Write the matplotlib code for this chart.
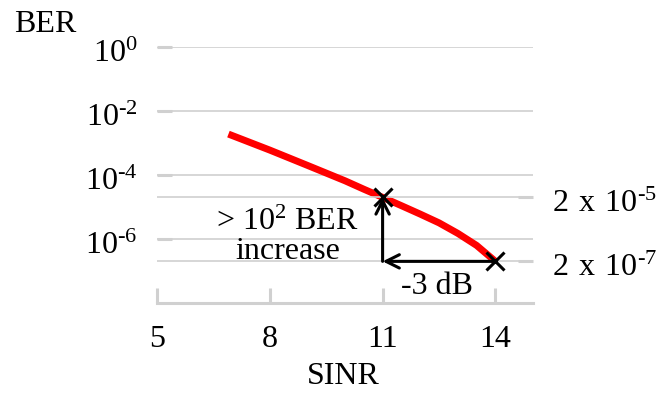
import matplotlib
matplotlib.use("Agg")
import matplotlib.pyplot as plt
import matplotlib.transforms as mtransforms
from matplotlib.ticker import NullLocator, FixedLocator

plt.rcParams["font.family"] = ["Liberation Serif", "DejaVu Serif"]
plt.rcParams["mathtext.fontset"] = "custom"
plt.rcParams["mathtext.rm"] = "Liberation Serif"

# curve
sinr = [6.9, 8, 9, 10, 10.5, 11, 11.5, 12, 12.5, 13, 13.5, 14]
ber = [1.9e-3, 6.0e-4, 2.0e-4, 6.6e-5, 3.6e-5, 2e-5, 1.1e-5, 6.0e-6,
       3.2e-6, 1.5e-6, 6.3e-7, 2e-7]

x_ticks = [5, 8, 11, 14]
y_ticks = [1e0, 1e-2, 1e-4, 1e-6]
y_labels = [r"$\mathregular{10^{0}}$", r"$\mathregular{10^{\text{-}2}}$",
            r"$\mathregular{10^{\text{-}4}}$", r"$\mathregular{10^{\text{-}6}}$"]
right_ticks = [2e-5, 2e-7]
right_labels = [r"$\mathregular{2\ x\ 10^{\text{-}5}}$",
                r"$\mathregular{2\ x\ 10^{\text{-}7}}$"]

# the two marked operating points
pt_x = [11, 14]
pt_y = [2e-5, 2e-7]

GRID = "#d0d0d0"
FS = 23

fig = plt.figure(figsize=(6.57, 3.96), dpi=100)
ax = fig.add_axes([157 / 657, 1 - 303 / 396, 376 / 657, 256 / 396])

ax.set_yscale("log")
ax.set_xlim(5, 15)
ax.set_ylim(1e-8, 1e0)

for s in ["top", "left", "right"]:
    ax.spines[s].set_visible(False)
ax.spines["bottom"].set_color(GRID)
ax.spines["bottom"].set_linewidth(2.2)

ax.xaxis.set_major_locator(FixedLocator(x_ticks))
ax.yaxis.set_major_locator(FixedLocator(y_ticks))
ax.yaxis.set_minor_locator(NullLocator())
ax.set_xticklabels([str(v) for v in x_ticks])
ax.set_yticklabels(y_labels)
ax.tick_params(axis="x", direction="in", length=11, width=2.2, color=GRID,
               labelsize=FS, pad=16)
ax.tick_params(axis="y", direction="in", length=11, width=2.2, color=GRID,
               labelsize=FS, pad=14)
ax.grid(axis="y", color=GRID, lw=1.2)

ax2 = ax.twinx()
ax2.set_yscale("log")
ax2.set_ylim(1e-8, 1e0)
for s in ["top", "left", "right", "bottom"]:
    ax2.spines[s].set_visible(False)
ax2.yaxis.set_major_locator(FixedLocator(right_ticks))
ax2.yaxis.set_minor_locator(NullLocator())
ax2.set_yticklabels(right_labels)
ax2.tick_params(axis="y", direction="in", length=11, width=2.2, color=GRID,
                labelsize=FS, pad=14)
ax2.grid(axis="y", color=GRID, lw=1.2)

# labels sit a little below their gridlines in the original
shift = mtransforms.ScaledTranslation(0, -4 / 100, fig.dpi_scale_trans)
for lab in ax.get_yticklabels() + ax2.get_yticklabels():
    lab.set_transform(lab.get_transform() + shift)

ax.plot(sinr, ber, color="#ff0000", lw=5, solid_capstyle="butt",
        solid_joinstyle="round", zorder=3)

arrow = dict(arrowstyle="->", lw=2.2, color="black", shrinkA=0, shrinkB=0,
             mutation_scale=24)
ax2.annotate("", xy=(pt_x[0], pt_y[0]), xytext=(pt_x[0], pt_y[1]),
             arrowprops=arrow, zorder=4)
ax2.annotate("", xy=(pt_x[0], pt_y[1]), xytext=(pt_x[1], pt_y[1]),
             arrowprops=arrow, zorder=4)
ax2.plot(pt_x, pt_y, ls="none", marker="x", color="black", ms=13, mew=2.2,
         zorder=5)

ax2.text(8.47, 10 ** -5.48, r"> $\mathregular{10^{2}}$ BER", fontsize=FS,
         ha="center", va="center")
ax2.text(8.47, 10 ** -6.38, "increase", fontsize=FS, ha="center",
         va="center")
ax2.text(12.45, 10 ** -7.5, "-3 dB", fontsize=FS, ha="center", va="center")

fig.text(14 / 657, 1 - 25 / 396, "BER", fontsize=FS, ha="left", va="center")
fig.text(343 / 657, 1 - 377 / 396, "SINR", fontsize=FS, ha="center",
         va="center")

fig.savefig("out.png", dpi=100)
